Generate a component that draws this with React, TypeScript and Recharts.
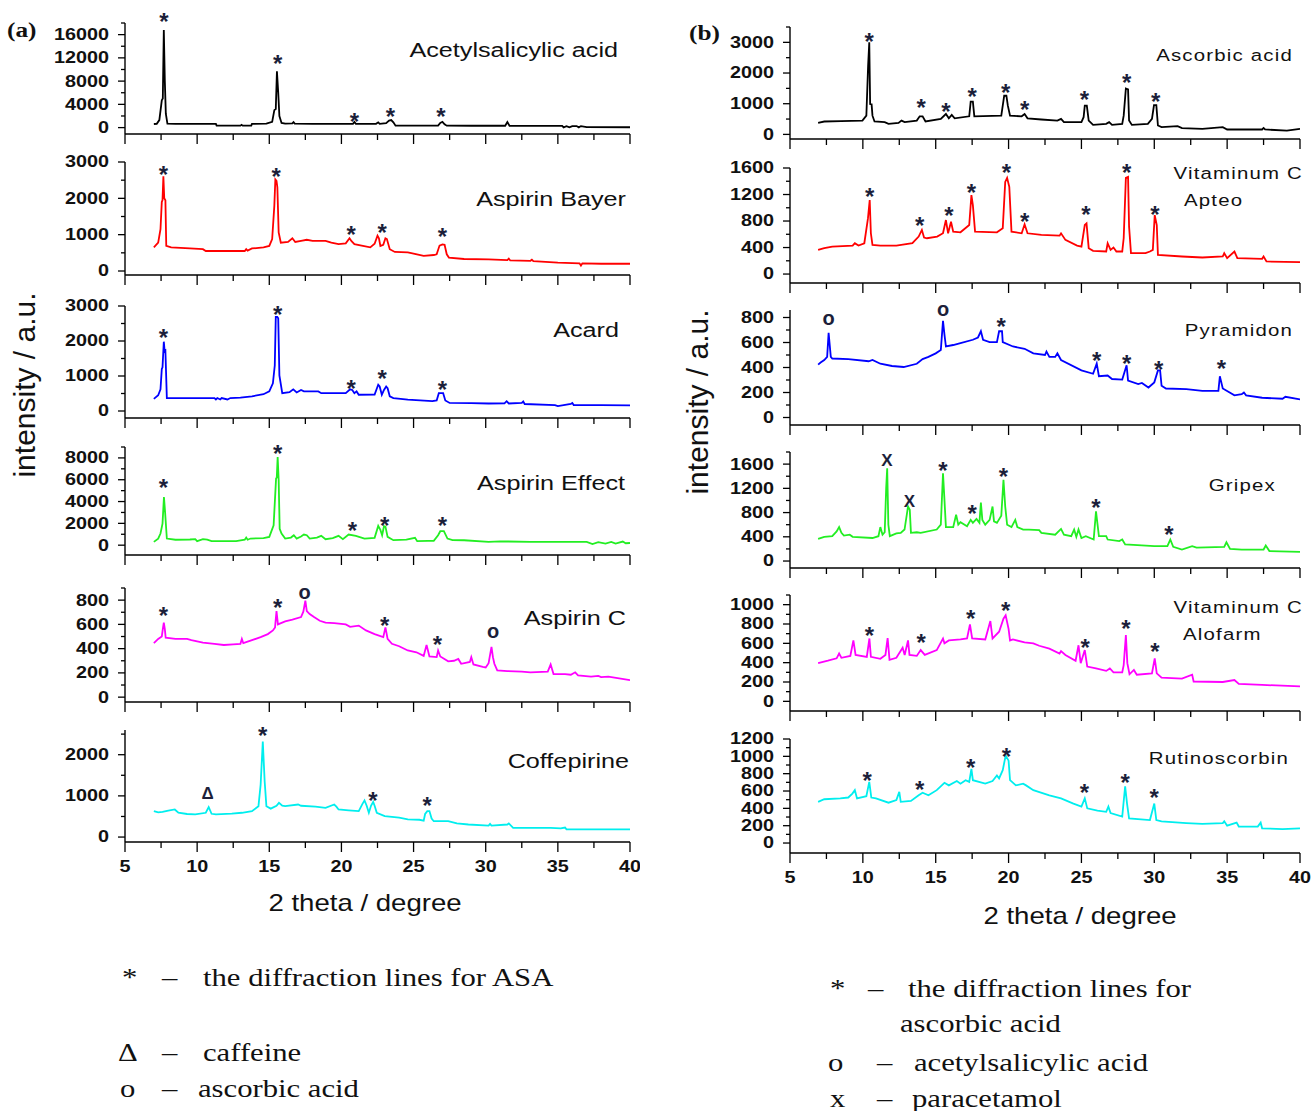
import React from "react";
import { LineChart, Line, XAxis, YAxis, ReferenceDot } from "recharts";

type Pt = [number, number];
type Mark = [number, number, string];

// ---- (a) tablets containing acetylsalicylic acid: [2theta, intensity]
const acetylsalicylicAcid: Pt[] = [
  [7.0, 620], [7.2, 650], [7.38, 1300], [7.55, 4700], [7.62, 5000], [7.69, 16800], [7.76, 8000], [7.83, 2400], [7.94, 700],
  [8.5, 650], [9.5, 640], [10.5, 650], [11.3, 640], [11.35, 330], [12.4, 330], [13.0, 330], [13.08, 480], [13.16, 330],
  [13.75, 330], [13.8, 640], [14.8, 680], [15.2, 1000], [15.35, 3000], [15.45, 3200], [15.53, 9700], [15.62, 6000],
  [15.7, 2000], [15.85, 800], [16.1, 700], [16.6, 720], [16.68, 950], [16.76, 680], [18.0, 650], [19.5, 640],
  [20.8, 650], [20.9, 980], [21.0, 650], [22.4, 650], [22.55, 900], [22.65, 650], [23.1, 780], [23.3, 1200],
  [23.45, 1300], [23.6, 900], [23.75, 330], [25.0, 330], [26.7, 340], [26.85, 800], [27.0, 1000], [27.15, 560],
  [27.3, 330], [29.0, 320], [31.35, 320], [31.5, 950], [31.65, 320], [33.0, 300], [35.3, 300], [35.4, 40],
  [35.6, 250], [35.8, 40], [36.0, 260], [36.3, 260], [36.45, 40], [36.6, 260], [37.0, 90], [40.0, 60],
];
const aspirinBayer: Pt[] = [
  [7.0, 650], [7.3, 780], [7.46, 1150], [7.55, 1900], [7.6, 1950], [7.66, 2610], [7.72, 2000], [7.8, 1950], [7.86, 690],
  [8.2, 650], [9.5, 620], [10.4, 600], [10.6, 550], [12.0, 550], [13.3, 550], [13.4, 600], [13.5, 560], [13.8, 620],
  [14.6, 650], [15.0, 690], [15.2, 880], [15.35, 1800], [15.42, 2520], [15.5, 2480], [15.56, 2300], [15.65, 1060],
  [15.8, 780], [16.3, 800], [16.6, 900], [16.8, 800], [17.2, 830], [17.6, 860], [18.0, 830], [18.9, 830], [19.3, 780],
  [19.8, 740], [20.3, 760], [20.56, 900], [20.7, 820], [20.9, 740], [21.4, 700], [22.0, 650], [22.3, 750], [22.5, 970],
  [22.6, 900], [22.7, 690], [22.9, 720], [23.05, 900], [23.15, 880], [23.35, 600], [23.7, 525], [24.6, 510], [25.0, 480],
  [25.7, 415], [26.4, 440], [26.6, 460], [26.8, 700], [27.0, 730], [27.15, 720], [27.3, 460], [27.45, 370], [28.5, 330],
  [30.2, 320], [31.5, 300], [31.6, 340], [31.7, 290], [33.1, 280], [33.2, 310], [33.3, 270], [35.0, 230], [36.5, 210],
  [36.6, 150], [36.7, 210], [38.0, 200], [40.0, 200],
];
const acard: Pt[] = [
  [7.0, 345], [7.3, 450], [7.46, 620], [7.55, 1200], [7.6, 1250], [7.69, 1980], [7.75, 1700], [7.8, 1720], [7.9, 370],
  [8.5, 370], [10.4, 370], [11.2, 370], [11.3, 330], [11.4, 370], [11.6, 330], [11.7, 370], [12.1, 330], [12.3, 370],
  [13.0, 380], [13.8, 420], [14.6, 480], [15.0, 560], [15.25, 790], [15.38, 1300], [15.45, 2690], [15.55, 2690],
  [15.62, 2650], [15.7, 1020], [15.9, 510], [16.4, 540], [16.66, 620], [16.9, 530], [17.2, 600], [17.4, 560],
  [18.4, 560], [18.6, 510], [20.3, 510], [20.6, 620], [20.75, 600], [20.9, 510], [21.05, 560], [21.2, 465], [22.3, 470],
  [22.55, 750], [22.65, 700], [22.8, 465], [22.95, 600], [23.1, 700], [23.2, 650], [23.35, 420], [23.6, 370],
  [24.6, 325], [26.3, 280], [26.6, 300], [26.75, 510], [27.05, 510], [27.2, 300], [27.5, 230], [29.0, 225], [30.2, 215],
  [31.3, 220], [31.45, 280], [31.6, 215], [32.5, 230], [32.6, 270], [32.7, 200], [34.8, 170], [35.0, 140], [35.9, 200],
  [36.0, 230], [36.1, 170], [38.0, 165], [40.0, 160],
];
const aspirinEffect: Pt[] = [
  [7.0, 305], [7.3, 600], [7.46, 1070], [7.6, 1980], [7.7, 4420], [7.78, 3000], [7.9, 610], [8.5, 500], [9.5, 520],
  [9.87, 550], [10.0, 370], [10.4, 550], [10.7, 500], [11.0, 370], [12.0, 370], [12.7, 380], [13.3, 500], [13.4, 700],
  [13.5, 500], [13.7, 610], [14.6, 650], [15.0, 760], [15.3, 1830], [15.47, 6100], [15.52, 6200], [15.58, 8080],
  [15.65, 6000], [15.72, 1500], [15.85, 1070], [16.1, 610], [16.5, 700], [16.7, 915], [16.9, 610], [17.2, 800],
  [17.4, 975], [17.6, 915], [17.8, 610], [18.3, 700], [18.6, 855], [18.9, 550], [19.4, 650], [19.8, 855], [20.1, 550],
  [20.5, 975], [21.0, 855], [21.6, 610], [22.3, 670], [22.55, 1770], [22.7, 1400], [22.82, 915], [22.95, 1740],
  [23.05, 1700], [23.2, 760], [23.6, 460], [24.5, 500], [25.1, 670], [25.25, 370], [26.0, 400], [26.4, 400],
  [26.7, 915], [26.85, 1280], [27.1, 1280], [27.35, 610], [27.7, 460], [28.5, 450], [30.2, 305], [31.0, 350],
  [33.1, 305], [35.0, 310], [37.0, 305], [37.4, 100], [37.8, 280], [38.3, 150], [38.7, 300], [39.0, 140], [39.5, 330],
  [39.7, 180], [40.0, 200],
];
const aspirinC: Pt[] = [
  [7.0, 445], [7.3, 480], [7.55, 500], [7.62, 560], [7.69, 615], [7.76, 560], [7.82, 490], [8.5, 480], [9.3, 480],
  [9.6, 470], [10.4, 450], [11.2, 440], [11.85, 430], [12.5, 435], [13.0, 440], [13.1, 480], [13.2, 445], [13.8, 470],
  [14.4, 495], [14.9, 520], [15.25, 550], [15.4, 575], [15.5, 710], [15.6, 600], [16.1, 625], [16.6, 640], [17.2, 660],
  [17.36, 705], [17.5, 795], [17.6, 710], [17.8, 685], [18.1, 660], [18.5, 630], [18.9, 615], [19.5, 610], [20.3, 600],
  [20.6, 580], [21.2, 590], [21.7, 550], [22.3, 520], [22.9, 495], [23.05, 575], [23.2, 480], [23.5, 440], [24.0, 420],
  [24.6, 385], [25.2, 370], [25.7, 340], [25.9, 430], [26.1, 335], [26.6, 330], [26.7, 385], [26.85, 335], [27.4, 295],
  [27.8, 300], [28.1, 315], [28.3, 275], [28.9, 290], [29.0, 330], [29.15, 270], [29.8, 250], [30.0, 245], [30.2, 280],
  [30.4, 415], [30.5, 330], [30.6, 275], [30.8, 220], [31.5, 215], [32.5, 210], [33.1, 205], [34.3, 210], [34.5, 270],
  [34.7, 190], [35.5, 190], [35.9, 185], [36.2, 205], [36.4, 180], [37.3, 170], [37.8, 175], [38.0, 165], [38.5, 170],
  [40.0, 140],
];
const coffepirine: Pt[] = [
  [7.0, 630], [7.3, 600], [7.6, 610], [8.0, 640], [8.45, 670], [8.7, 590], [9.3, 560], [9.87, 550], [10.6, 590],
  [10.8, 725], [11.0, 565], [11.3, 550], [12.4, 570], [13.1, 590], [13.8, 630], [14.25, 750], [14.4, 1270],
  [14.55, 2320], [14.68, 1350], [14.8, 750], [15.1, 690], [15.5, 760], [15.67, 830], [15.9, 760], [16.1, 750],
  [17.0, 790], [17.2, 760], [18.2, 740], [18.9, 710], [19.5, 790], [19.65, 740], [19.8, 670], [20.5, 650], [21.2, 630],
  [21.45, 800], [21.6, 890], [21.75, 760], [21.9, 590], [22.05, 760], [22.2, 855], [22.3, 760], [22.45, 590],
  [23.0, 510], [24.0, 470], [24.6, 430], [25.4, 420], [25.7, 400], [25.8, 560], [25.95, 630], [26.1, 630], [26.25, 450],
  [26.4, 385], [27.4, 385], [28.0, 330], [28.8, 305], [30.2, 280], [30.3, 320], [30.4, 280], [31.5, 305], [31.6, 330],
  [31.9, 225], [34.5, 225], [35.2, 210], [35.5, 230], [35.6, 190], [37.3, 185], [40.0, 185],
];

// ---- (b) preparations containing ascorbic acid
const ascorbicAcid: Pt[] = [
  [6.93, 375], [7.35, 420], [8.5, 430], [9.97, 450], [10.24, 610], [10.36, 2225], [10.44, 3000], [10.5, 990],
  [10.6, 980], [10.66, 610], [10.8, 420], [11.5, 400], [11.76, 345], [12.45, 375], [12.65, 450], [12.87, 400],
  [13.7, 450], [13.9, 590], [14.1, 590], [14.3, 420], [15.35, 505], [15.7, 665], [15.9, 525], [16.1, 635], [16.3, 525],
  [17.3, 590], [17.4, 1065], [17.55, 1065], [17.65, 590], [19.5, 610], [19.62, 1000], [19.7, 1260], [19.85, 1260],
  [19.95, 935], [20.1, 610], [20.9, 590], [21.1, 665], [21.3, 525], [22.25, 485], [23.35, 450], [23.6, 505],
  [23.8, 400], [25.0, 400], [25.15, 560], [25.23, 935], [25.37, 935], [25.5, 450], [25.8, 310], [26.7, 345],
  [26.9, 400], [27.1, 310], [27.8, 345], [27.9, 610], [28.05, 1495], [28.2, 1470], [28.27, 450], [28.46, 310],
  [29.56, 345], [29.84, 505], [29.98, 955], [30.14, 955], [30.25, 290], [30.5, 235], [31.6, 270], [31.9, 205],
  [33.3, 180], [34.7, 235], [35.0, 160], [37.4, 160], [37.5, 210], [37.6, 160], [39.1, 120], [40.0, 180],
];
const vitaminCApteo: Pt[] = [
  [6.93, 365], [7.35, 390], [7.9, 415], [9.3, 430], [9.45, 465], [9.7, 430], [10.1, 465], [10.35, 840], [10.47, 1115],
  [10.55, 615], [10.66, 440], [11.2, 430], [12.3, 430], [13.4, 465], [13.83, 565], [14.05, 665], [14.2, 550],
  [14.4, 540], [15.1, 565], [15.5, 615], [15.7, 815], [15.85, 615], [16.05, 790], [16.2, 640], [16.7, 630],
  [17.3, 740], [17.45, 1190], [17.55, 1040], [17.7, 640], [19.2, 630], [19.6, 690], [19.77, 1390], [19.9, 1450],
  [20.05, 1315], [20.2, 640], [20.9, 615], [21.1, 750], [21.3, 615], [22.25, 590], [23.5, 580], [23.6, 615],
  [23.9, 515], [24.7, 430], [25.0, 415], [25.23, 740], [25.35, 765], [25.5, 390], [25.8, 350], [26.7, 340],
  [26.8, 465], [27.0, 365], [27.2, 400], [27.4, 340], [27.8, 340], [27.9, 540], [28.05, 1450], [28.2, 1465],
  [28.27, 715], [28.4, 315], [29.4, 315], [29.7, 340], [29.9, 365], [30.03, 890], [30.17, 740], [30.25, 290],
  [31.9, 265], [33.3, 250], [34.7, 265], [34.8, 315], [35.0, 240], [35.5, 340], [35.7, 240], [37.4, 230], [37.5, 265],
  [37.7, 190], [40.0, 180],
];
const pyramidon: Pt[] = [
  [6.93, 423], [7.1, 440], [7.35, 460], [7.55, 485], [7.65, 677], [7.8, 485], [7.9, 472], [9.0, 467], [10.4, 450],
  [10.66, 460], [11.2, 430], [12.0, 412], [12.8, 404], [13.7, 430], [14.1, 467], [14.5, 485], [15.0, 513],
  [15.35, 540], [15.5, 773], [15.6, 663], [15.7, 568], [16.2, 580], [16.7, 595], [17.55, 622], [17.9, 640],
  [18.1, 690], [18.25, 622], [18.7, 603], [19.2, 603], [19.35, 690], [19.55, 690], [19.6, 603], [20.3, 568],
  [21.1, 550], [21.7, 513], [22.5, 500], [22.6, 527], [22.8, 485], [23.2, 485], [23.35, 513], [23.6, 460],
  [25.0, 377], [25.8, 350], [26.05, 431], [26.2, 330], [26.8, 336], [27.1, 308], [27.8, 303], [28.1, 418],
  [28.2, 295], [28.9, 267], [29.15, 276], [29.6, 240], [30.0, 281], [30.25, 377], [30.4, 377], [30.5, 254],
  [30.8, 232], [32.2, 227], [33.3, 213], [34.4, 213], [34.5, 330], [34.7, 232], [35.5, 177], [36.0, 186],
  [36.15, 200], [36.3, 177], [37.4, 158], [38.8, 150], [39.0, 166], [40.0, 145],
];
const gripex: Pt[] = [
  [6.93, 365], [7.35, 400], [7.9, 410], [8.2, 490], [8.37, 560], [8.53, 465], [8.7, 420], [9.1, 435], [9.3, 400],
  [10.66, 380], [11.07, 410], [11.2, 560], [11.35, 435], [11.5, 475], [11.6, 1200], [11.67, 1530], [11.75, 600],
  [11.85, 410], [12.3, 455], [12.6, 465], [12.86, 520], [13.1, 900], [13.22, 845], [13.3, 465], [13.7, 475],
  [13.97, 465], [15.07, 520], [15.35, 600], [15.5, 1450], [15.6, 1010], [15.7, 560], [16.2, 560], [16.4, 765],
  [16.55, 600], [16.7, 640], [17.15, 575], [17.4, 680], [17.55, 630], [17.8, 695], [18.0, 630], [18.1, 965],
  [18.2, 680], [18.4, 600], [18.7, 680], [18.9, 900], [19.0, 655], [19.2, 630], [19.5, 750], [19.65, 1340],
  [19.77, 900], [19.9, 600], [20.2, 560], [20.46, 680], [20.6, 560], [21.0, 520], [21.4, 520], [22.1, 510],
  [22.25, 465], [23.2, 435], [23.6, 530], [23.8, 435], [24.3, 410], [24.5, 520], [24.65, 400], [24.8, 520],
  [25.0, 380], [25.3, 410], [25.84, 355], [26.0, 820], [26.2, 410], [26.7, 410], [26.8, 355], [27.6, 330],
  [27.8, 355], [28.0, 273], [30.0, 245], [30.9, 245], [31.1, 355], [31.3, 235], [31.9, 190], [32.6, 245], [32.9, 220],
  [34.8, 235], [34.95, 310], [35.2, 200], [36.0, 190], [37.5, 190], [37.65, 255], [37.9, 165], [40.0, 150],
];
const vitaminCAlofarm: Pt[] = [
  [6.93, 395], [7.6, 420], [8.2, 445], [8.37, 495], [8.53, 450], [9.14, 470], [9.35, 630], [9.5, 480], [10.27, 460],
  [10.45, 650], [10.55, 460], [11.2, 440], [11.55, 480], [11.7, 655], [11.83, 430], [12.3, 450], [12.73, 555],
  [12.87, 480], [13.1, 630], [13.2, 480], [13.7, 470], [13.97, 530], [14.25, 480], [15.07, 530], [15.5, 650],
  [15.6, 600], [15.9, 630], [16.7, 640], [17.15, 650], [17.35, 795], [17.5, 650], [18.4, 640], [18.75, 830],
  [18.9, 650], [19.35, 720], [19.65, 855], [19.8, 890], [20.0, 750], [20.1, 630], [20.3, 640], [21.1, 610],
  [21.7, 600], [22.1, 575], [22.8, 545], [23.5, 495], [23.6, 520], [23.9, 480], [24.6, 420], [24.8, 580],
  [24.95, 395], [25.23, 530], [25.4, 360], [26.0, 340], [26.7, 315], [26.95, 340], [27.2, 300], [27.8, 300],
  [27.9, 375], [28.05, 685], [28.15, 395], [28.3, 280], [28.6, 325], [28.8, 275], [29.84, 290], [30.03, 445],
  [30.17, 290], [30.5, 245], [31.9, 235], [32.6, 275], [32.7, 205], [34.7, 200], [35.5, 220], [35.8, 180],
  [37.4, 170], [40.0, 155],
];
const rutinoscorbin: Pt[] = [
  [6.93, 475], [7.35, 505], [8.45, 515], [9.0, 525], [9.28, 570], [9.45, 610], [9.6, 515], [10.24, 540], [10.44, 705],
  [10.58, 525], [10.9, 515], [11.76, 465], [12.3, 495], [12.5, 590], [12.6, 475], [13.3, 485], [13.83, 550],
  [14.1, 580], [14.5, 550], [15.07, 610], [15.6, 695], [15.9, 665], [16.45, 715], [16.7, 685], [17.05, 725],
  [17.3, 705], [17.45, 855], [17.55, 725], [18.4, 685], [18.9, 715], [19.2, 780], [19.35, 745], [19.6, 840],
  [19.8, 1010], [20.0, 950], [20.1, 725], [20.5, 665], [21.0, 685], [21.2, 665], [21.7, 610], [22.8, 550],
  [23.6, 515], [24.45, 455], [25.0, 420], [25.23, 515], [25.4, 400], [26.1, 375], [26.7, 360], [26.85, 420],
  [27.0, 345], [27.8, 305], [28.0, 655], [28.13, 455], [28.27, 285], [29.7, 265], [30.0, 455], [30.14, 265],
  [30.5, 250], [32.2, 230], [33.3, 220], [34.7, 230], [34.8, 250], [35.0, 200], [35.65, 235], [35.8, 190],
  [37.1, 190], [37.3, 235], [37.4, 170], [38.8, 160], [40.0, 170],
];

// ---- peak markers: [2theta, intensity where the symbol sits, symbol]
const marksAcetyl: Mark[] = [[7.69, 19300, "*"], [15.58, 12050, "*"], [20.9, 2000, "*"], [23.4, 2850, "*"], [26.9, 2850, "*"]];
const marksBayer: Mark[] = [[7.66, 2815, "*"], [15.47, 2770, "*"], [20.68, 1155, "*"], [22.83, 1230, "*"], [27.0, 1110, "*"]];
const marksAcard: Mark[] = [[7.66, 2275, "*"], [15.58, 2925, "*"], [20.68, 820, "*"], [22.83, 1085, "*"], [27.0, 790, "*"]];
const marksEffect: Mark[] = [[7.66, 5800, "*"], [15.58, 8900, "*"], [20.76, 1890, "*"], [23.0, 2380, "*"], [27.0, 2380, "*"]];
const marksAspirinC: Mark[] = [[7.66, 718, "*"], [15.58, 786, "*"], [17.45, 850, "o"], [23.0, 636, "*"], [26.65, 480, "*"], [30.52, 534, "o"]];
const marksCoffepirine: Mark[] = [[10.72, 1070, "Δ"], [14.54, 2600, "*"], [22.18, 1030, "*"], [25.94, 910, "*"]];
const marksAscorbic: Mark[] = [[10.44, 3215, "*"], [14.0, 1065, "*"], [15.7, 935, "*"], [17.5, 1420, "*"], [19.8, 1560, "*"], [21.1, 990, "*"], [25.2, 1345, "*"], [28.1, 1880, "*"], [30.1, 1260, "*"]];
const marksApteo: Mark[] = [[10.47, 1265, "*"], [13.9, 815, "*"], [15.9, 965, "*"], [17.45, 1325, "*"], [19.85, 1615, "*"], [21.1, 880, "*"], [25.3, 980, "*"], [28.1, 1615, "*"], [30.05, 980, "*"]];
const marksPyramidon: Mark[] = [[7.65, 786, "o"], [15.5, 855, "o"], [19.5, 773, "*"], [26.05, 505, "*"], [28.1, 478, "*"], [30.3, 431, "*"], [34.6, 440, "*"]];
const marksGripex: Mark[] = [[11.65, 1665, "X"], [13.2, 1000, "X"], [15.5, 1600, "*"], [17.5, 875, "*"], [19.65, 1490, "*"], [26.0, 985, "*"], [31.0, 530, "*"]];
const marksAlofarm: Mark[] = [[10.45, 745, "*"], [14.0, 665, "*"], [17.4, 915, "*"], [19.8, 1000, "*"], [25.25, 620, "*"], [28.05, 815, "*"], [30.05, 580, "*"]];
const marksRutino: Mark[] = [[10.3, 790, "*"], [13.9, 680, "*"], [17.4, 945, "*"], [19.85, 1065, "*"], [25.2, 650, "*"], [28.0, 770, "*"], [30.0, 590, "*"]];

// ---- axis ticks
const xTicks = [5, 7.5, 10, 12.5, 15, 17.5, 20, 22.5, 25, 27.5, 30, 32.5, 35, 37.5, 40];
const yMajors18k = [0, 4000, 8000, 12000, 16000];
const yMinors18k = [2000, 6000, 10000, 14000, 18000];
const yMajors3k = [0, 1000, 2000, 3000];
const yMinors3k = [500, 1500, 2500];
const yMinors3k5 = [500, 1500, 2500, 3500];
const yMajors8k = [0, 2000, 4000, 6000, 8000];
const yMinors8k = [1000, 3000, 5000, 7000, 9000];
const yMajors800 = [0, 200, 400, 600, 800];
const yMinors800 = [100, 300, 500, 700, 900];
const yMinors700 = [100, 300, 500, 700];
const yMajors2k = [0, 1000, 2000];
const yMinors2k = [500, 1500, 2500];
const yMajors1600 = [0, 400, 800, 1200, 1600];
const yMinors1600 = [200, 600, 1000, 1400];
const yMinors1800 = [200, 600, 1000, 1400, 1800];
const yMajors1000 = [0, 200, 400, 600, 800, 1000];
const yMinors1100 = [100, 300, 500, 700, 900, 1100];
const yMajors1200 = [0, 200, 400, 600, 800, 1000, 1200];
const yMinors1200 = [100, 300, 500, 700, 900, 1100];

const SX = 1.2; // the published figure is stretched horizontally
const SANS = "'Liberation Sans', Arial, sans-serif";
const SERIF = "'Liberation Serif', 'Times New Roman', serif";

const LEFT = { left: 0, width: 640, yw: 125, mr: 10 };
const RIGHT = { left: 680, width: 631, yw: 110, mr: 11 };

const panels = [
  { ...LEFT, top: 23, bottom: 134, domain: [-1100, 18000], majors: yMajors18k, minors: yMinors18k, pts: acetylsalicylicAcid, marks: marksAcetyl, color: "#000000", showX: false },
  { ...LEFT, top: 162, bottom: 275, domain: [-110, 3000], majors: yMajors3k, minors: yMinors3k, pts: aspirinBayer, marks: marksBayer, color: "#ff0000", showX: false },
  { ...LEFT, top: 306, bottom: 418, domain: [-200, 3000], majors: yMajors3k, minors: yMinors3k, pts: acard, marks: marksAcard, color: "#0000ff", showX: false },
  { ...LEFT, top: 447, bottom: 555, domain: [-900, 9000], majors: yMajors8k, minors: yMinors8k, pts: aspirinEffect, marks: marksEffect, color: "#22ee22", showX: false },
  { ...LEFT, top: 588, bottom: 702, domain: [-40, 900], majors: yMajors800, minors: yMinors800, pts: aspirinC, marks: marksAspirinC, color: "#ff00ff", showX: false },
  { ...LEFT, top: 730, bottom: 842, domain: [-120, 2600], majors: yMajors2k, minors: yMinors2k, pts: coffepirine, marks: marksCoffepirine, color: "#00eeee", showX: true },
  { ...RIGHT, top: 27, bottom: 139, domain: [-150, 3500], majors: yMajors3k, minors: yMinors3k5, pts: ascorbicAcid, marks: marksAscorbic, color: "#000000", showX: false },
  { ...RIGHT, top: 168, bottom: 283, domain: [-135, 1600], majors: yMajors1600, minors: yMinors1600, pts: vitaminCApteo, marks: marksApteo, color: "#ff0000", showX: false },
  { ...RIGHT, top: 310, bottom: 425, domain: [-60, 860], majors: yMajors800, minors: yMinors700, pts: pyramidon, marks: marksPyramidon, color: "#0000ff", showX: false },
  { ...RIGHT, top: 452, bottom: 568, domain: [-115, 1800], majors: yMajors1600, minors: yMinors1800, pts: gripex, marks: marksGripex, color: "#22ee22", showX: false },
  { ...RIGHT, top: 595, bottom: 711, domain: [-100, 1100], majors: yMajors1000, minors: yMinors1100, pts: vitaminCAlofarm, marks: marksAlofarm, color: "#ff00ff", showX: false },
  { ...RIGHT, top: 739, bottom: 853, domain: [-115, 1200], majors: yMajors1200, minors: yMinors1200, pts: rutinoscorbin, marks: marksRutino, color: "#00eeee", showX: true },
];

function YTick({ x, y, payload, majors }: any) {
  const v = payload.value;
  const major = majors.includes(v);
  return (
    <g>
      <line x1={x - (major ? 7 : 4)} y1={y} x2={x} y2={y} stroke="#000" strokeWidth={1.3} />
      {major && (
        <text transform={`translate(${x - 16} ${y}) scale(${SX} 1)`} textAnchor="end" dominantBaseline="central"
          fontFamily={SANS} fontWeight="bold" fontSize={16.5} fill="#111">{v}</text>
      )}
    </g>
  );
}

function XTick({ x, y, payload, showLabel }: any) {
  const v = payload.value;
  const major = v % 5 === 0;
  return (
    <g>
      <line x1={x} y1={y} x2={x} y2={y + (major ? 10 : 6)} stroke="#000" strokeWidth={1.3} />
      {showLabel && major && (
        <text transform={`translate(${x} ${y + 25}) scale(${SX} 1)`} textAnchor="middle" dominantBaseline="central"
          fontFamily={SANS} fontWeight="bold" fontSize={16.5} fill="#111">{v}</text>
      )}
    </g>
  );
}

function PeakMark({ cx, cy, sym }: any) {
  if (cx == null || cy == null) return <g />;
  const fs = sym === "*" ? 24 : sym === "o" ? 20 : 17;
  const dy = sym === "*" ? 0.6 * fs : sym === "o" ? 0.27 * fs : 0.36 * fs;
  return (
    <text x={cx} y={cy + dy} textAnchor="middle" fontFamily={SANS} fontWeight="bold" fontSize={fs} fill="#1c1f3a">{sym}</text>
  );
}

function Pattern({ p }: any) {
  const data = p.pts.map(([x, y]: Pt) => ({ x, y }));
  const H = p.bottom - p.top;
  const MT = 22;
  const XH = 40;
  const yTicks = [...p.majors, ...p.minors].sort((a, b) => a - b);
  return (
    <div style={{ position: "absolute", left: p.left, top: p.top - MT }}>
      <LineChart width={p.width} height={MT + H + XH} data={data} margin={{ top: MT, right: p.mr, bottom: 0, left: 0 }}>
        <XAxis type="number" dataKey="x" domain={[5, 40]} ticks={xTicks} interval={0} allowDataOverflow height={XH}
          tickSize={0} tickMargin={0} tickLine={false} axisLine={{ stroke: "#000", strokeWidth: 1.4 }}
          tick={(t: any) => <XTick {...t} showLabel={p.showX} />} />
        <YAxis type="number" domain={p.domain} ticks={yTicks} interval={0} allowDataOverflow width={p.yw}
          tickSize={0} tickMargin={0} tickLine={false} axisLine={{ stroke: "#000", strokeWidth: 1.4 }}
          tick={(t: any) => <YTick {...t} majors={p.majors} />} />
        <Line type="linear" dataKey="y" stroke={p.color} strokeWidth={1.8} dot={false} activeDot={false} isAnimationActive={false} />
        {p.marks.map(([mx, my, s]: Mark, i: number) => (
          <ReferenceDot key={i} x={mx} y={my} ifOverflow="visible" shape={(d: any) => <PeakMark {...d} sym={s} />} />
        ))}
      </LineChart>
    </div>
  );
}

function Txt({ x, y, children, size, anchor = "start", family = SANS, weight = "normal", spacing = 0, sx = SX }: any) {
  return (
    <text transform={`translate(${x} ${y}) scale(${sx} 1)`} textAnchor={anchor} dominantBaseline="central"
      fontFamily={family} fontWeight={weight} fontSize={size} letterSpacing={spacing} fill="#111">{children}</text>
  );
}

export default function App() {
  return (
    <div style={{ position: "absolute", left: 0, top: 0, width: 1311, height: 1111, background: "#fff", overflow: "hidden" }}>
      <svg width={1311} height={1111} style={{ position: "absolute", left: 0, top: 0 }}>
        <Txt x={7} y={30} size={22} family={SERIF} weight="bold" sx={1.15}>(a)</Txt>
        <Txt x={689} y={33} size={22} family={SERIF} weight="bold" sx={1.15}>(b)</Txt>

        <Txt x={618} y={50} size={21} anchor="end">Acetylsalicylic acid</Txt>
        <Txt x={626} y={199} size={21} anchor="end">Aspirin Bayer</Txt>
        <Txt x={619} y={330} size={21} anchor="end">Acard</Txt>
        <Txt x={625} y={483} size={21} anchor="end">Aspirin Effect</Txt>
        <Txt x={626} y={618} size={21} anchor="end">Aspirin C</Txt>
        <Txt x={629} y={761} size={21} anchor="end">Coffepirine</Txt>

        <Txt x={1293} y={55} size={17} spacing={1} anchor="end">Ascorbic acid</Txt>
        <Txt x={1303} y={173} size={17} spacing={1} anchor="end">Vitaminum C</Txt>
        <Txt x={1184} y={200} size={17} spacing={1}>Apteo</Txt>
        <Txt x={1293} y={330} size={17} spacing={1} anchor="end">Pyramidon</Txt>
        <Txt x={1276} y={485} size={17} spacing={1} anchor="end">Gripex</Txt>
        <Txt x={1303} y={607} size={17} spacing={1} anchor="end">Vitaminum C</Txt>
        <Txt x={1183} y={634} size={17} spacing={1}>Alofarm</Txt>
        <Txt x={1289} y={758} size={17} spacing={1} anchor="end">Rutinoscorbin</Txt>

        <Txt x={365} y={903} size={23} anchor="middle">2 theta / degree</Txt>
        <Txt x={1080} y={916} size={23} anchor="middle">2 theta / degree</Txt>
        <text transform="translate(24 385) rotate(-90)" textAnchor="middle" dominantBaseline="central" fontFamily={SANS} fontSize={30} fill="#111">intensity / a.u.</text>
        <text transform="translate(697 402) rotate(-90)" textAnchor="middle" dominantBaseline="central" fontFamily={SANS} fontSize={30} fill="#111">intensity / a.u.</text>

        <Txt x={122} y={977} size={26} family={SERIF} sx={1.18}>*</Txt>
        <Txt x={162} y={977} size={26} family={SERIF} sx={1.18}>–</Txt>
        <Txt x={203} y={977} size={26} family={SERIF} sx={1.18}>the diffraction lines for ASA</Txt>
        <Txt x={118} y={1052} size={26} family={SERIF} sx={1.18}>Δ</Txt>
        <Txt x={162} y={1052} size={26} family={SERIF} sx={1.18}>–</Txt>
        <Txt x={203} y={1052} size={26} family={SERIF} sx={1.18}>caffeine</Txt>
        <Txt x={120} y={1088} size={26} family={SERIF} sx={1.18}>o</Txt>
        <Txt x={162} y={1088} size={26} family={SERIF} sx={1.18}>–</Txt>
        <Txt x={198} y={1088} size={26} family={SERIF} sx={1.18}>ascorbic acid</Txt>

        <Txt x={830} y={988} size={26} family={SERIF} sx={1.18}>*</Txt>
        <Txt x={868} y={988} size={26} family={SERIF} sx={1.18}>–</Txt>
        <Txt x={908} y={988} size={26} family={SERIF} sx={1.18}>the diffraction lines for</Txt>
        <Txt x={900} y={1023} size={26} family={SERIF} sx={1.18}>ascorbic acid</Txt>
        <Txt x={828} y={1062} size={26} family={SERIF} sx={1.18}>o</Txt>
        <Txt x={877} y={1062} size={26} family={SERIF} sx={1.18}>–</Txt>
        <Txt x={914} y={1062} size={26} family={SERIF} sx={1.18}>acetylsalicylic acid</Txt>
        <Txt x={830} y={1098} size={26} family={SERIF} sx={1.18}>x</Txt>
        <Txt x={877} y={1098} size={26} family={SERIF} sx={1.18}>–</Txt>
        <Txt x={912} y={1098} size={26} family={SERIF} sx={1.18}>paracetamol</Txt>
      </svg>
      {panels.map((p, i) => <Pattern key={i} p={p} />)}
    </div>
  );
}
